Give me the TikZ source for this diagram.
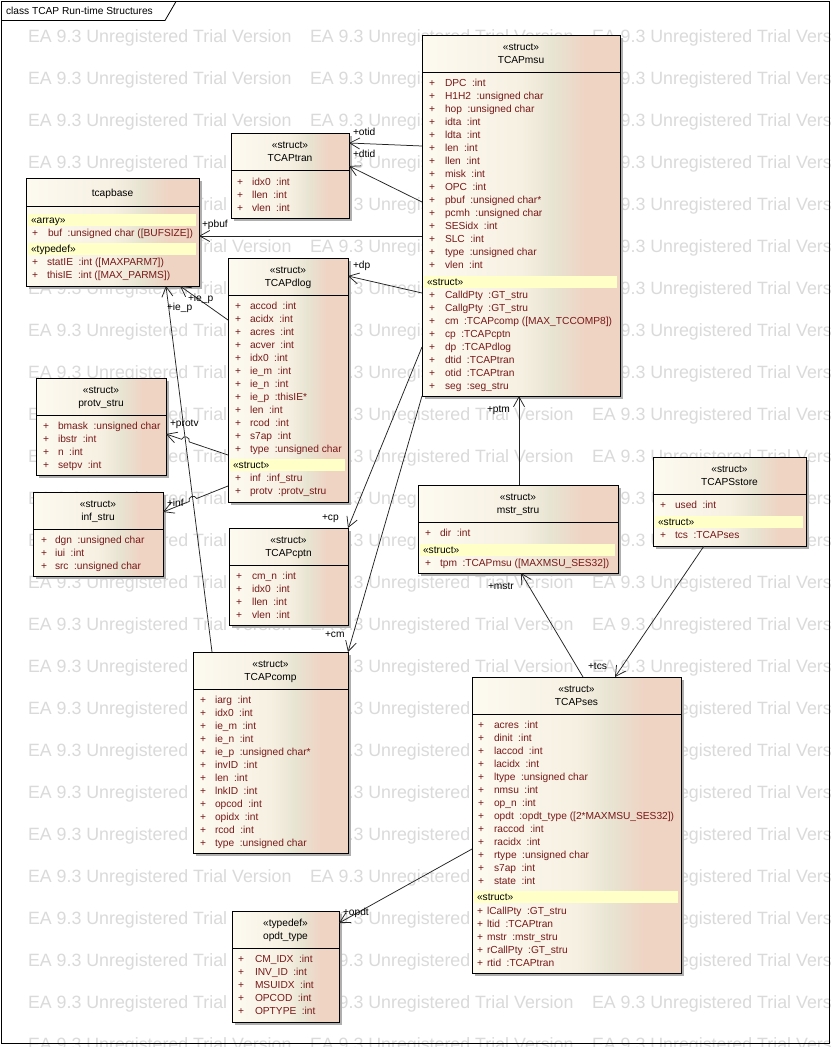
\documentclass[tikz,border=0pt]{standalone}
\usepackage{fontspec}
\setmainfont{Liberation Sans}
\usetikzlibrary{arrows.meta,calc}
\definecolor{boxL}{RGB}{253,250,240}
\definecolor{boxL2}{RGB}{246,240,226}
\definecolor{boxM}{RGB}{232,228,210}
\definecolor{boxR}{RGB}{239,212,196}
\definecolor{bandc}{RGB}{255,255,200}
\definecolor{attrc}{RGB}{120,25,25}
\definecolor{wm}{RGB}{218,218,218}
\definecolor{shadowc}{RGB}{175,175,175}
\definecolor{linec}{RGB}{35,35,35}
\pgfdeclarehorizontalshading{umlshade}{100bp}{color(0bp)=(boxL); color(25bp)=(boxL); color(50bp)=(boxL2); color(58bp)=(boxM); color(66bp)=(boxR); color(75bp)=(boxR); color(100bp)=(boxR)}
\tikzset{
  txt/.style={inner sep=0pt, outer sep=0pt, font=\fontsize{10.2}{13}\selectfont, text=black},
  atxt/.style={txt, text=attrc},
  wmark/.style={inner sep=0pt, outer sep=0pt, font=\fontsize{17.8}{20}\selectfont, text=wm, anchor=west},
  classbox/.style={draw=black, line width=0.9pt, shading=umlshade, inner sep=0pt, outer sep=0pt, anchor=north west},
  sepline/.style={draw=black, line width=0.9pt},
  assoc/.style={draw=linec, line width=0.75pt, -{Straight Barb[length=10pt,width=11pt]}},
  rolelbl/.style={txt, anchor=base west},
}
\newcommand{\ubox}[6]{%
  \fill[shadowc] (#2+3,#3+3) rectangle (#2+#4+3,#3+#5+3);
  \node[classbox, minimum width=#4, minimum height=#5] (#1) at (#2,#3) {};
  \draw[sepline] ($(#1.north west)+(0,#6)$) -- ($(#1.north east)+(0,#6)$);
}
\newcommand{\uhdr}[6]{%
  \node[txt, anchor=base] (#1-st) at (#2+#4/2, #3+15.5) {«#5»};
  \node[txt, anchor=base] (#1-nm) at (#2+#4/2, #3+28.5) {#6};
}
\newcommand{\uattrs}[5]{%
  \foreach \nm/\ty [count=\i] in {#5}{%
    \node[atxt, anchor=base west] (#1p\i) at (#2, #4+3.5+13*\i-13) {+};
    \node[atxt, anchor=base west] (#1a\i) at (#3, #4+3.5+13*\i-13) {\nm\hspace{5.5pt}:\ty};
  }%
}
\newcommand{\uband}[5]{%
  \fill[bandc] (#2+2, #4-6) rectangle (#2+#3-3, #4+6);
  \node[txt, anchor=base west] (#1) at (#2+5, #4+3.5) {«#5»};
}
\begin{document}
\begin{tikzpicture}[x=1pt,y=-1pt]
\useasboundingbox (0,0) rectangle (831,1047);
\fill[white] (0,0) rectangle (831,1047);
% watermark
\begin{scope}
\clip (0,0) rectangle (831,1047);
\foreach \r in {0,...,24}{
  \foreach \c in {0,1,2}{
    \node[wmark] (wm-\r-\c) at (28+282*\c, 38+42*\r) {EA 9.3 Unregistered Trial Version};
  }
}
\end{scope}
% frame
\draw[black, line width=0.8pt] (1.5,1.5) rectangle (829.5,1043);
\draw[black, line width=0.8pt] (1.5,20.5) -- (165,20.5) -- (176,1.5);
\node[txt, anchor=base west] (title) at (6,14.5) {class TCAP Run-time Structures};

% TCAPmsu
\ubox{msu}{422}{35}{198}{361}{37}
\uhdr{msu}{422}{35}{198}{struct}{TCAPmsu}
\uattrs{msuA}{429}{445}{83}{DPC/int, H1H2/unsigned char, hop/unsigned char, idta/int, ldta/int, len/int, llen/int, misk/int, OPC/int, pbuf/unsigned char*, pcmh/unsigned char, SESidx/int, SLC/int, type/unsigned char, vlen/int}
\uband{msuB}{422}{198}{282}{struct}
\uattrs{msuC}{429}{445}{295}{CalldPty/GT\_stru, CallgPty/GT\_stru, cm/TCAPcomp ([MAX\_TCCOMP8]), cp/TCAPcptn, dp/TCAPdlog, dtid/TCAPtran, otid/TCAPtran, seg/seg\_stru}

% TCAPtran
\ubox{tran}{231}{133}{118}{85}{37}
\uhdr{tran}{231}{133}{118}{struct}{TCAPtran}
\uattrs{tranA}{237}{252}{182}{idx0/int, llen/int, vlen/int}

% tcapbase
\ubox{tbase}{26}{178}{173}{108}{28}
\node[txt, anchor=base] (tbase-nm) at (112.5,196.5) {tcapbase};
\uband{tbaseB}{26}{173}{220}{array}
\uattrs{tbaseA}{32}{48}{233}{buf/unsigned char ([BUFSIZE])}
\uband{tbaseD}{26}{173}{249}{typedef}
\uattrs{tbaseC}{32}{47}{262}{statIE/int ([MAXPARM7]), thisIE/int ([MAX\_PARMS])}

% TCAPdlog
\ubox{dlog}{228}{258}{120}{244}{37}
\uhdr{dlog}{228}{258}{120}{struct}{TCAPdlog}
\uattrs{dlogA}{235}{250}{306}{accod/int, acidx/int, acres/int, acver/int, idx0/int, ie\_m/int, ie\_n/int, ie\_p/thisIE*, len/int, rcod/int, s7ap/int, type/unsigned char}
\uband{dlogB}{228}{120}{465}{struct}
\uattrs{dlogC}{235}{250}{478}{inf/inf\_stru, protv/protv\_stru}

% protv_stru
\ubox{protv}{36}{378}{130}{97}{37}
\uhdr{protv}{36}{378}{130}{struct}{protv\_stru}
\uattrs{protvA}{43}{58}{426}{bmask/unsigned char, ibstr/int, n/int, setpv/int}

% inf_stru
\ubox{inf}{33}{492}{130}{84}{37}
\uhdr{inf}{33}{492}{130}{struct}{inf\_stru}
\uattrs{infA}{41}{55}{540}{dgn/unsigned char, iui/int, src/unsigned char}

% TCAPcptn
\ubox{optn}{229}{528}{119}{97}{37}
\uhdr{optn}{229}{528}{119}{struct}{TCAPcptn}
\uattrs{optnA}{236}{252}{576}{cm\_n/int, idx0/int, llen/int, vlen/int}

% TCAPcomp
\ubox{comp}{193}{652}{155}{201}{37}
\uhdr{comp}{193}{652}{155}{struct}{TCAPcomp}
\uattrs{compA}{200}{215}{700}{iarg/int, idx0/int, ie\_m/int, ie\_n/int, ie\_p/unsigned char*, invID/int, len/int, lnkID/int, opcod/int, opidx/int, rcod/int, type/unsigned char}

% mstr_stru
\ubox{mstr}{418}{485}{200}{88}{37}
\uhdr{mstr}{418}{485}{200}{struct}{mstr\_stru}
\uattrs{mstrA}{425}{440}{533}{dir/int}
\uband{mstrB}{418}{200}{550}{struct}
\uattrs{mstrC}{425}{440}{563}{tpm/TCAPmsu ([MAXMSU\_SES32])}

% TCAPSstore
\ubox{store}{653}{457}{153}{89}{37}
\uhdr{store}{653}{457}{153}{struct}{TCAPSstore}
\uattrs{storeA}{660}{675}{505}{used/int}
\uband{storeB}{653}{153}{522}{struct}
\uattrs{storeC}{660}{675}{535}{tcs/TCAPses}

% TCAPses
\ubox{ses}{472}{677}{209}{296}{37}
\uhdr{ses}{472}{677}{209}{struct}{TCAPses}
\uattrs{sesA}{478}{494}{725}{acres/int, dinit/int, laccod/int, lacidx/int, ltype/unsigned char, nmsu/int, op\_n/int, opdt/opdt\_type ([2*MAXMSU\_SES32]), raccod/int, racidx/int, rtype/unsigned char, s7ap/int, state/int}
\uband{sesB}{472}{209}{897}{struct}
\uattrs{sesC}{477}{487}{911}{lCallPty/GT\_stru, ltid/TCAPtran, mstr/mstr\_stru, rCallPty/GT\_stru, rtid/TCAPtran}

% opdt_type
\ubox{opdt}{232}{911}{107}{111}{37}
\uhdr{opdt}{232}{911}{107}{typedef}{opdt\_type}
\uattrs{opdtA}{238}{255}{959}{CM\_IDX/int, INV\_ID/int, MSUIDX/int, OPCOD/int, OPTYPE/int}

% hop coordinates
\coordinate (hp1) at (189.2,441.9);
\coordinate (hp1c) at (190.8,437.2);
\coordinate (hp2c) at (183.2,434.6);
\coordinate (hp2) at (181.6,439.3);
\coordinate (hi1) at (196.6,498.5);
\coordinate (hi1c) at (194.7,493.9);
\coordinate (hi2c) at (187.3,496.9);
\coordinate (hi2) at (189.2,501.5);

% connectors
\draw[assoc] ($(msu.north west)+(0,111)$) -- ($(tran.north east)+(0,10)$);
\draw[assoc] ($(msu.north west)+(0,167)$) -- ($(tran.north east)+(0,33)$);
\draw[assoc] ($(msu.north west)+(0,201)$) -- ($(tbase.north east)+(0,58)$);
\draw[assoc] ($(msu.north west)+(0,258)$) -- ($(dlog.north east)+(0,18)$);
\draw[assoc] ($(msu.north west)+(0,312)$) -- (optn.north east);
\draw[assoc] (msu.south west) -- (comp.north east);
\draw[assoc] ($(mstr.north west)+(101,0)$) -- ($(msu.south west)+(97,0)$);
\draw[assoc] ($(ses.north west)+(111,0)$) -- ($(mstr.south west)+(103,0)$);
\draw[assoc] ($(store.south west)+(51,0)$) -- ($(ses.north west)+(143,0)$);
\draw[assoc] ($(ses.north west)+(0,172)$) -- ($(opdt.north east)+(0,12)$);
\draw[assoc] ($(dlog.north west)+(0,62)$) -- ($(tbase.south west)+(154,0)$);
\draw[assoc] ($(comp.north west)+(19,0)$) -- ($(tbase.south west)+(140,0)$);
\draw[assoc] ($(dlog.north west)+(0,197)$) -- (hp1) .. controls (hp1c) and (hp2c) .. (hp2) -- ($(protv.north east)+(0,56)$);
\draw[assoc] ($(dlog.north west)+(0,228)$) -- (hi1) .. controls (hi1c) and (hi2c) .. (hi2) -- ($(inf.north east)+(0,20)$);

% role labels
\node[rolelbl] (l-otid) at (353,135.5) {+otid};
\node[rolelbl] (l-dtid) at (353,157.5) {+dtid};
\node[rolelbl] (l-pbuf) at (202,227.5) {+pbuf};
\node[rolelbl] (l-dp) at (353,268.5) {+dp};
\node[rolelbl] (l-cp) at (322,520.5) {+cp};
\node[rolelbl] (l-cm) at (325,637.5) {+cm};
\node[rolelbl] (l-ptm) at (487,412.5) {+ptm};
\node[rolelbl] (l-mstr) at (488,589.5) {+mstr};
\node[rolelbl] (l-tcs) at (588,669.5) {+tcs};
\node[rolelbl] (l-opdt) at (343,915.5) {+opdt};
\node[rolelbl] (l-iep1) at (188,301.5) {+ie\_p};
\node[rolelbl] (l-iep2) at (167,310.5) {+ie\_p};
\node[rolelbl] (l-protv) at (170,426.5) {+protv};
\node[rolelbl] (l-inf) at (167,506.5) {+inf};
\end{tikzpicture}
\end{document}
